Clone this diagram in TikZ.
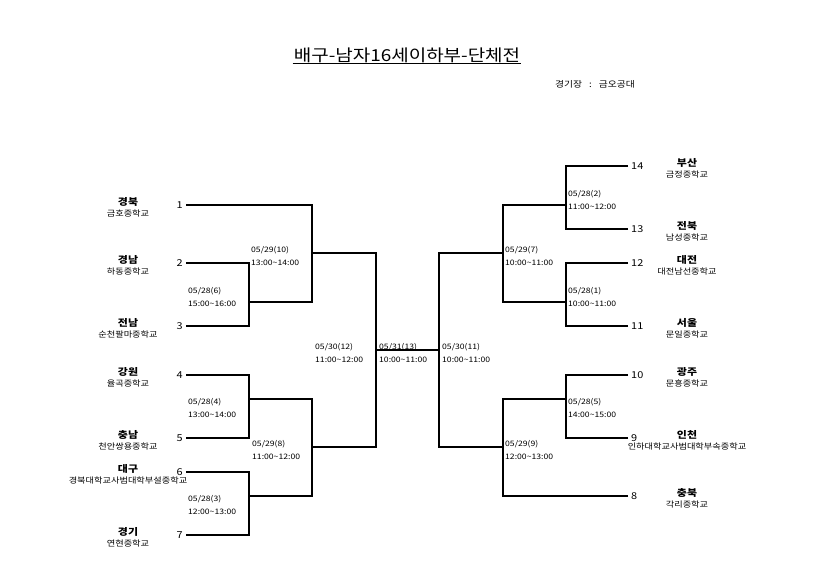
\documentclass[tikz,border=0pt]{standalone}
\usepackage{fontspec}
\setmainfont[FakeStretch=1.15]{Noto Sans CJK KR}
\newcommand{\tl}{\textasciitilde}
\newcommand{\teamname}[2]{{\fontsize{9.5}{10}\selectfont\bfseries #1}\\#2}

\begin{document}
\begin{tikzpicture}[x=1pt,y=-1pt]
\tikzset{font=\fontsize{8}{11}\selectfont}
\tikzset{bracket/.style={draw, line width=1.4pt}}
\tikzset{seedleft/.style={anchor=east, inner sep=3pt, font=\fontsize{9.5}{10}\selectfont}}
\tikzset{seedright/.style={anchor=west, inner sep=3pt, font=\fontsize{9.5}{10}\selectfont}}
\tikzset{team/.style={align=center, inner sep=0pt, font=\fontsize{8}{11}\selectfont}}
\tikzset{match/.style={anchor=west, align=left, inner sep=0pt, font=\fontsize{7.5}{13}\selectfont}}
\useasboundingbox[fill=white] (0,0) rectangle (819,580);

% title
\node[inner sep=1pt, font=\fontsize{16.5}{17}\selectfont] (title) at (407,55) {배구-남자16세이하부-단체전};
\draw[line width=0.8pt] (title.south west) -- (title.south east);
\node[anchor=west, inner sep=0pt, font=\fontsize{8.5}{9}\selectfont] (venue) at (555,84) {경기장\hspace{7pt}:\hspace{7pt}금오공대};

% seeds
\foreach \n/\y in {1/205,2/263,3/326,4/375,5/438,6/472,7/535}
  \node[seedleft] (n\n) at (186,\y) {\n};
\foreach \n/\y in {14/166,13/229,12/263,11/326,10/375,9/438,8/496}
  \node[seedright] (n\n) at (628,\y) {\n};

% teams
\foreach \n/\y/\r/\s in {1/205/경북/금호중학교, 2/263/경남/하동중학교, 3/326/전남/순천팔마중학교,
    4/375/강원/율곡중학교, 5/438/충남/천안쌍용중학교, 6/472/대구/경북대학교사범대학부설중학교,
    7/535/경기/연현중학교}
  \node[team] (t\n) at (128,\y+2) {\teamname{\r}{\s}};
\foreach \n/\y/\r/\s in {14/166/부산/금정중학교, 13/229/전북/남성중학교, 12/263/대전/대전남선중학교,
    11/326/서울/문일중학교, 10/375/광주/문흥중학교, 9/438/인천/인하대학교사범대학부속중학교,
    8/496/충북/각리중학교}
  \node[team] (t\n) at (687,\y+2) {\teamname{\r}{\s}};

% match points
\coordinate (m6) at (249,302);
\coordinate (m4) at (249,399);
\coordinate (m3) at (249,496);
\coordinate (m10) at (312,253);
\coordinate (m8) at (312,447);
\coordinate (m12) at (376,350);
\coordinate (m11) at (439,350);
\coordinate (m7) at (503,253);
\coordinate (m9) at (503,447);
\coordinate (m2) at (566,205);
\coordinate (m1) at (566,302);
\coordinate (m5) at (566,399);

% left half
\draw[bracket] (n2.east) -| (m6);
\draw[bracket] (n3.east) -| (m6);
\draw[bracket] (n4.east) -| (m4);
\draw[bracket] (n5.east) -| (m4);
\draw[bracket] (n6.east) -| (m3);
\draw[bracket] (n7.east) -| (m3);
\draw[bracket] (n1.east) -| (m10);
\draw[bracket] (m6) -| (m10);
\draw[bracket] (m4) -| (m8);
\draw[bracket] (m3) -| (m8);
\draw[bracket] (m10) -| (m12);
\draw[bracket] (m8) -| (m12);
% final
\draw[bracket] (m12) -- (m11);
% right half
\draw[bracket] (n14.west) -| (m2);
\draw[bracket] (n13.west) -| (m2);
\draw[bracket] (n12.west) -| (m1);
\draw[bracket] (n11.west) -| (m1);
\draw[bracket] (n10.west) -| (m5);
\draw[bracket] (n9.west) -| (m5);
\draw[bracket] (m2) -| (m7);
\draw[bracket] (m1) -| (m7);
\draw[bracket] (m5) -| (m9);
\draw[bracket] (n8.west) -| (m9);
\draw[bracket] (m7) -| (m11);
\draw[bracket] (m9) -| (m11);

% match labels
\node[match] (d6) at (188,297) {05/28(6)\\15:00\tl16:00};
\node[match] (d4) at (188,408) {05/28(4)\\13:00\tl14:00};
\node[match] (d3) at (188,505) {05/28(3)\\12:00\tl13:00};
\node[match] (d10) at (251,255.5) {05/29(10)\\13:00\tl14:00};
\node[match] (d8) at (252,449.5) {05/29(8)\\11:00\tl12:00};
\node[match] (d12) at (315,352.5) {05/30(12)\\11:00\tl12:00};
\node[match] (d13) at (379,352.5) {05/31(13)\\10:00\tl11:00};
\node[match] (d11) at (442,352.5) {05/30(11)\\10:00\tl11:00};
\node[match] (d7) at (505,255.5) {05/29(7)\\10:00\tl11:00};
\node[match] (d9) at (505,449.5) {05/29(9)\\12:00\tl13:00};
\node[match] (d2) at (568,199.5) {05/28(2)\\11:00\tl12:00};
\node[match] (d1) at (568,296.5) {05/28(1)\\10:00\tl11:00};
\node[match] (d5) at (568,408) {05/28(5)\\14:00\tl15:00};
\end{tikzpicture}
\end{document}
